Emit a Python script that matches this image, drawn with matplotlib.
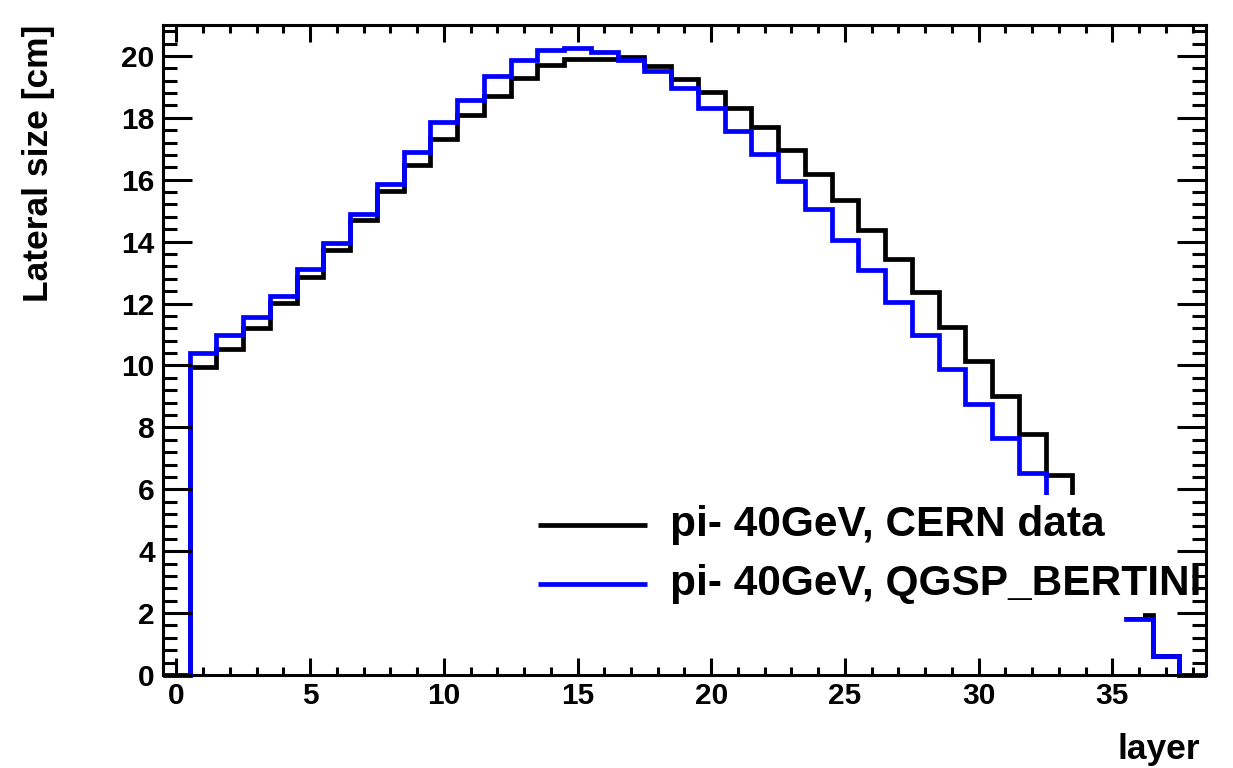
import matplotlib
matplotlib.use("Agg")
import matplotlib.pyplot as plt
from matplotlib.patches import Rectangle
from matplotlib.ticker import MultipleLocator
import numpy as np

# lateral shower size per layer (bin centres 0..38)
layers = np.arange(0, 39)
cern_data = [0, 9.96, 10.53, 11.2, 12.02, 12.86, 13.74, 14.71, 15.63, 16.46,
             17.32, 18.1, 18.71, 19.3, 19.7, 19.89, 19.89, 19.95, 19.68, 19.25,
             18.82, 18.33, 17.71, 16.96, 16.17, 15.35, 14.38, 13.44, 12.37, 11.24,
             10.16, 9.0, 7.8, 6.45, 5.1, 3.5, 1.94, 0.6, 0]
qgsp_bertini = [0, 10.41, 10.98, 11.57, 12.25, 13.1, 13.96, 14.9, 15.87, 16.89,
                17.85, 18.58, 19.36, 19.86, 20.19, 20.27, 20.14, 19.86, 19.52, 18.96,
                18.32, 17.58, 16.84, 15.97, 15.07, 14.05, 13.09, 12.04, 10.97, 9.89,
                8.74, 7.67, 6.53, 5.4, 4.2, 3.0, 1.8, 0.6, 0]
labels = ["pi- 40GeV, CERN data", "pi- 40GeV, QGSP_BERTINI"]
colors = ["black", "#0000ff"]

plt.rcParams['font.family'] = ['Liberation Sans', 'DejaVu Sans']
plt.rcParams['font.weight'] = 'bold'

fig = plt.figure(figsize=(12.33, 7.68), dpi=100)
ax = fig.add_axes([0.1322, 0.1211, 0.8459, 0.8464])

edges = np.append(layers - 0.5, layers[-1] + 0.5)
for vals, c in zip([cern_data, qgsp_bertini], colors):
    ax.stairs(vals, edges, baseline=None, color=c, lw=3.4, zorder=3, clip_on=False)

ax.set_xlim(-0.5, 38.5)
ax.set_ylim(0, 21.0)

# root style frame and ticks
for sp in ax.spines.values():
    sp.set_linewidth(2.2)
ax.xaxis.set_major_locator(MultipleLocator(5))
ax.xaxis.set_minor_locator(MultipleLocator(1))
ax.yaxis.set_major_locator(MultipleLocator(2))
ax.yaxis.set_minor_locator(MultipleLocator(0.4))
ax.tick_params(axis='x', which='major', direction='in', length=12, width=2.2,
               top=True, labelsize=21.5, pad=5)
ax.tick_params(axis='x', which='minor', direction='in', length=5.5, width=2.2, top=True)
ax.tick_params(axis='y', which='major', direction='in', length=21, width=2.2,
               right=True, labelsize=21.5, pad=6)
ax.tick_params(axis='y', which='minor', direction='in', length=10, width=2.2, right=True)
ax.xaxis.set_zorder(4)
ax.yaxis.set_zorder(4)

ax.set_ylabel("Lateral size [cm]", fontsize=25.5, fontweight='bold', loc='top')
ax.yaxis.set_label_coords(-0.104, 1.0)
ax.set_xlabel("layer", fontsize=25.5, fontweight='bold', loc='right')
ax.xaxis.set_label_coords(0.994, -0.09)

# legend box (opaque, covers the histograms like root TLegend)
ax.add_patch(Rectangle((0.352, 0.0892), 0.588, 0.188, transform=ax.transAxes,
                       facecolor='white', edgecolor='none', zorder=3.5))
for i, (lab, c) in enumerate(zip(labels, colors)):
    yy = 0.2308 - i * 0.0908
    ax.plot([0.3595, 0.464], [yy, yy], transform=ax.transAxes, color=c, lw=3.4,
            zorder=3.6, solid_capstyle='butt')
    ax.text(0.486, yy, lab, transform=ax.transAxes, fontsize=30.5, fontweight='bold',
            va='center', ha='left', zorder=3.6)

fig.savefig("out.png", dpi=100)
